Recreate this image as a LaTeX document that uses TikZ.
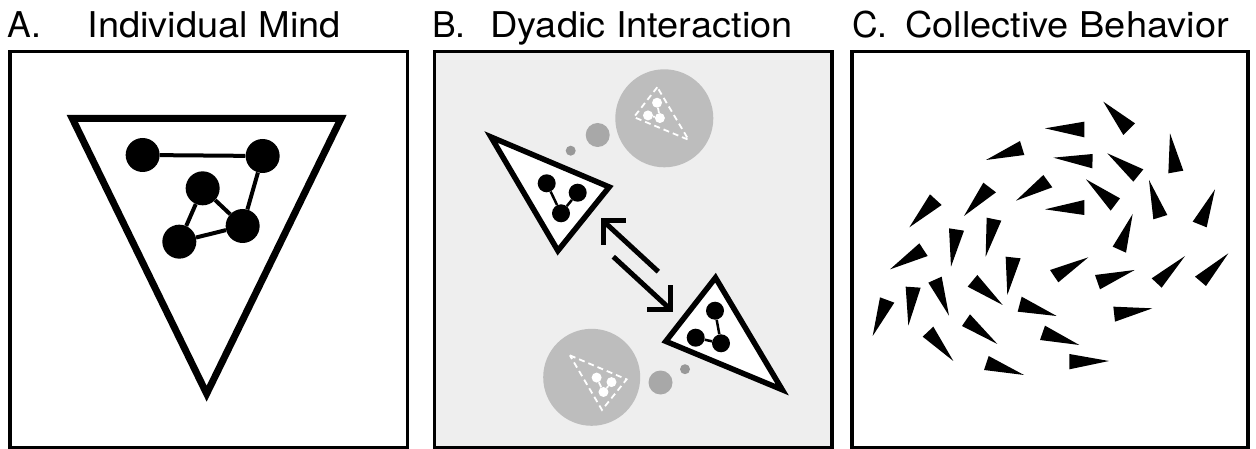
\documentclass[tikz,border=0pt]{standalone}
\usepackage{fontspec}
\setmainfont{TeX Gyre Heros}
\definecolor{panelgray}{HTML}{EEEEEE}
\definecolor{bubbleA}{HTML}{BDBDBD}
\definecolor{bubbleB}{HTML}{A8A8A8}
\definecolor{bubbleC}{HTML}{989898}
\newcommand\dart[3]{\fill[black] (#1) -- (#2) -- (#3) -- cycle;}
\begin{document}
\begin{tikzpicture}[x=1pt,y=-1pt,line join=miter,
  frame/.style={draw=black,line width=3.5pt},
  title/.style={anchor=base west,inner sep=0pt,font=\fontsize{35.5}{40}\selectfont},
  bigdot/.style={circle,fill=black,inner sep=0pt,minimum size=34pt},
  bigedge/.style={line width=4pt},
  agent/.style={draw=black,fill=white,line width=5.5pt},
  smalldot/.style={circle,fill=black,inner sep=0pt,minimum size=18pt},
  smalledge/.style={line width=2.5pt},
  ghost/.style={draw=white,line width=1.8pt,dash pattern=on 6pt off 4pt},
  ghostdot/.style={circle,fill=white,inner sep=0pt,minimum size=10pt},
  ghostedge/.style={draw=white,line width=1.8pt},
  arr/.style={line width=5pt,line cap=butt}]
\useasboundingbox (0,0) rectangle (1256,449);

% titles
\node[title] (la) at (7,37.3) {A.};
\node[title] (ta) at (87.5,37.3) {\scalebox{1.07}[1]{Individual Mind}};
\node[title] (lb) at (432,37.3) {B.};
\node[title] (tb) at (490,37.3) {\scalebox{1.07}[1]{Dyadic Interaction}};
\node[title] (lc) at (852,37.3) {C.};
\node[title] (tc) at (905,37.3) {\scalebox{1.07}[1]{Collective Behavior}};

% frames
\fill[panelgray] (434.5,51.5) rectangle (832,447.5);
\draw[frame] (10,51.5) rectangle (407.5,447.5);
\draw[frame] (434.5,51.5) rectangle (832,447.5);
\draw[frame] (852,51.5) rectangle (1248,447.5);

% ---------- Panel A ----------
\begin{scope}[scale=1/3]
  \draw[line width=7pt] (217,355.5) -- (1023,355.5) -- (620,1181) -- cycle;
  \node[bigdot] (a1) at (428,465) {};
  \node[bigdot] (a2) at (788,468) {};
  \node[bigdot] (a3) at (608,565) {};
  \node[bigdot] (a4) at (728,678) {};
  \node[bigdot] (a5) at (538,725) {};
  \draw[bigedge] (a1) -- (a2);
  \draw[bigedge] (a2) -- (a4);
  \draw[bigedge] (a3) -- (a4);
  \draw[bigedge] (a3) -- (a5);
  \draw[bigedge] (a5) -- (a4);
\end{scope}

% ---------- Panel B ----------
% thought bubbles
\fill[bubbleA] (664.3,118.3) circle (49pt);
\fill[bubbleB] (597.7,135) circle (12pt);
\fill[bubbleC] (570.7,150.7) circle (5pt);
\fill[bubbleA] (591.7,377.3) circle (48.5pt);
\fill[bubbleB] (660.5,382.5) circle (12pt);
\fill[bubbleC] (685,369.2) circle (5pt);

% top bubble: image of the lower-right agent
\begin{scope}[shift={(321,-43.3)},scale=0.47]
  \draw[ghost] (715.5,277.7) -- (665.8,341.3) -- (782.2,389.7) -- cycle;
  \node[ghostdot] (g1) at (715,310.7) {};
  \node[ghostdot] (g2) at (695.7,337.7) {};
  \node[ghostdot] (g3) at (721,343.3) {};
  \draw[ghostedge] (g1) -- (g3);
  \draw[ghostedge] (g2) -- (g3);
\end{scope}
% bottom bubble: image of the upper-left agent
\begin{scope}[shift={(334.2,289.6)},scale=0.48]
  \draw[ghost] (491,137) -- (609.2,187) -- (557.9,250.7) -- cycle;
  \node[ghostdot] (h1) at (546.7,183.3) {};
  \node[ghostdot] (h2) at (577.7,192.7) {};
  \node[ghostdot] (h3) at (561,213.3) {};
  \draw[ghostedge] (h1) -- (h3);
  \draw[ghostedge] (h2) -- (h3);
\end{scope}

% agents
\draw[agent] (491,137) -- (609.2,187) -- (557.9,250.7) -- cycle;
\node[smalldot] (p1) at (546.7,183.3) {};
\node[smalldot] (p2) at (577.7,192.7) {};
\node[smalldot] (p3) at (561,213.3) {};
\draw[smalledge] (p1) -- (p3);
\draw[smalledge] (p2) -- (p3);

\draw[agent] (715.5,277.7) -- (665.8,341.3) -- (782.2,389.7) -- cycle;
\node[smalldot] (q1) at (715,310.7) {};
\node[smalldot] (q2) at (695.7,337.7) {};
\node[smalldot] (q3) at (721,343.3) {};
\draw[smalledge] (q1) -- (q3);
\draw[smalledge] (q2) -- (q3);

% arrows
\coordinate (r1tail) at (658.3,271.7);
\coordinate (r1tip) at (603.3,221);
\coordinate (r2tail) at (613.3,256.7);
\coordinate (r2tip) at (670,309);
\draw[arr] (r1tail) -- (r1tip);
\draw[arr] (625.7,221) -- (r1tip) -- (603.3,245);
\draw[arr] (r2tail) -- (r2tip);
\draw[arr] (670,285) -- (r2tip) -- (647.3,309);

% ---------- Panel C ----------
\begin{scope}[shift={(840,80)},scale=1/3]
  \dart{790,65}{885,130}{850,165}
  \dart{615,145}{733,125}{733,172}
  \dart{990,160}{985,280}{1030,272}
  \dart{438,240}{540,183}{553,225}
  \dart{640,233}{758,222}{757,265}
  \dart{802,220}{910,268}{880,305}
  \dart{738,298}{840,355}{812,392}
  \dart{927,300}{940,418}{982,405}
  \dart{1125,328}{1058,425}{1100,442}
  \dart{528,362}{610,285}{637,322}
  \dart{372,408}{430,308}{468,337}
  \dart{615,388}{733,360}{733,405}
  \dart{208,442}{270,343}{305,375}
  \dart{878,402}{818,500}{858,518}
  \dart{150,568}{238,490}{263,528}
  \dart{333,560}{327,445}{372,452}
  \dart{437,530}{440,413}{484,422}
  \dart{745,532}{630,570}{655,607}
  \dart{1035,528}{935,595}{965,623}
  \dart{1165,520}{1065,590}{1098,618}
  \dart{884,570}{765,585}{780,628}
  \dart{502,645}{497,530}{542,535}
  \dart{327,707}{265,608}{305,590}
  \dart{488,675}{383,620}{412,585}
  \dart{205,737}{197,620}{242,623}
  \dart{98,768}{120,652}{163,668}
  \dart{650,708}{533,695}{545,650}
  \dart{937,685}{820,680}{825,725}
  \dart{472,792}{366,738}{390,703}
  \dart{340,843}{248,770}{280,740}
  \dart{718,795}{600,780}{615,737}
  \dart{552,885}{432,870}{446,828}
  \dart{807,843}{688,822}{688,868}
\end{scope}
\end{tikzpicture}
\end{document}
